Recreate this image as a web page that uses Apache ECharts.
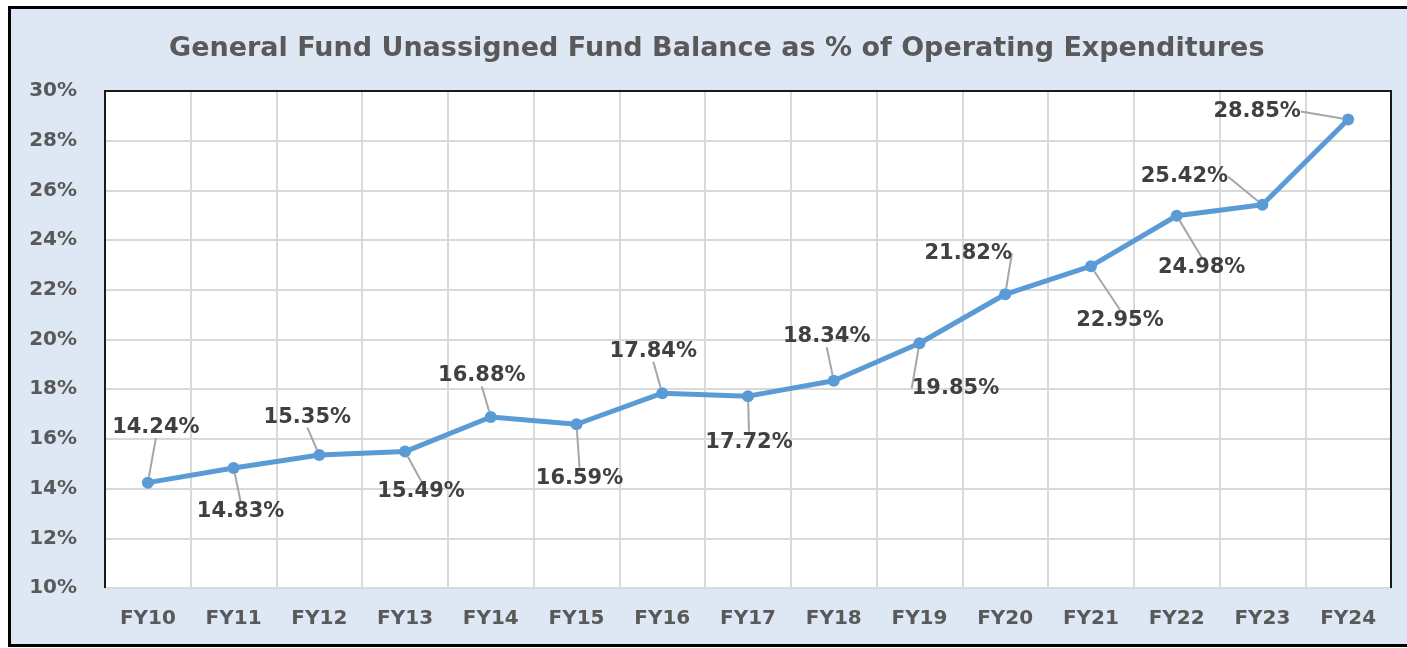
<!DOCTYPE html>
<html>
<head>
<meta charset="utf-8">
<script src="https://cdn.jsdelivr.net/npm/echarts@6/dist/echarts.min.js"></script>
<style>
  html, body { margin: 0; padding: 0; background: #fff; }
  #chart { width: 1407px; height: 648px; }
</style>
</head>
<body>
<div id="chart"></div>
<script>
// chart data
var years = ['FY10', 'FY11', 'FY12', 'FY13', 'FY14', 'FY15', 'FY16', 'FY17',
             'FY18', 'FY19', 'FY20', 'FY21', 'FY22', 'FY23', 'FY24'];
var balancePct = [14.24, 14.83, 15.35, 15.49, 16.88, 16.59, 17.84, 17.72,
                  18.34, 19.85, 21.82, 22.95, 24.98, 25.42, 28.85];
var yTicks = { min: 10, max: 30, step: 2 };

// where each data label sits, relative to its point (px)
var labelOffsets = [
  [8, -55], [7, 44], [-12, -38], [16, 40], [-9, -41],
  [3, 54], [-9, -42], [1, 46], [-7, -44], [36, 45],
  [-37, -41], [29, 54], [25, 52], [-78, -28], [-91, -8]
];

// plot box (px)
var plot = { left: 105, top: 91, right: 1391, bottom: 588 };

var chart = echarts.init(document.getElementById('chart'));
chart.setOption({
  backgroundColor: '#fff',
  animation: false,
  textStyle: { fontFamily: 'DejaVu Sans' },
  graphic: [{
    type: 'rect',
    z: -100,
    shape: { x: 9.5, y: 7.5, width: 1420, height: 638 },
    style: { fill: '#dde8f4', stroke: '#000', lineWidth: 3 }
  }, {
    // dark frame on left / top / right of the plot
    type: 'polyline',
    z: 50,
    shape: { points: [[plot.left, plot.bottom], [plot.left, plot.top],
                      [plot.right, plot.top], [plot.right, plot.bottom]] },
    style: { stroke: '#1a1a1a', lineWidth: 2, fill: null }
  }],
  title: {
    text: 'General Fund Unassigned Fund Balance as % of Operating Expenditures',
    left: 164,
    top: 30,
    textStyle: { fontSize: 27, fontWeight: 'bold', color: '#595959', fontFamily: 'DejaVu Sans' }
  },
  grid: {
    left: plot.left, top: plot.top, right: 1407 - plot.right, bottom: 648 - plot.bottom,
    show: true,
    backgroundColor: '#fff',
    borderWidth: 0
  },
  xAxis: {
    type: 'category',
    data: years,
    boundaryGap: true,
    axisLine: { lineStyle: { color: '#d9d9d9', width: 2 } },
    axisTick: { show: false },
    splitLine: { show: true, lineStyle: { color: '#d9d9d9', width: 2 } },
    axisLabel: { margin: 21, fontSize: 20, fontWeight: 'bold', color: '#595959' }
  },
  yAxis: {
    type: 'value',
    min: yTicks.min,
    max: yTicks.max,
    interval: yTicks.step,
    axisLine: { show: false },
    axisTick: { show: false },
    splitLine: { lineStyle: { color: '#d9d9d9', width: 2 } },
    axisLabel: { margin: 28, fontSize: 20, fontWeight: 'bold', color: '#595959', formatter: '{value}%' }
  },
  series: [{
    type: 'line',
    data: balancePct,
    symbol: 'circle',
    symbolSize: 12,
    lineStyle: { color: '#5b9bd5', width: 5 },
    itemStyle: { color: '#5b9bd5' },
    label: {
      show: true,
      position: 'inside',
      formatter: function (p) { return p.value.toFixed(2) + '%'; },
      fontSize: 21,
      fontWeight: 'bold',
      color: '#404040'
    },
    labelLine: {
      show: true,
      smooth: false,
      lineStyle: { color: '#a6a6a6', width: 2 }
    },
    labelLayout: function (params) {
      var o = labelOffsets[params.dataIndex];
      return { dx: o[0], dy: o[1] };
    }
  }]
});
</script>
</body>
</html>
